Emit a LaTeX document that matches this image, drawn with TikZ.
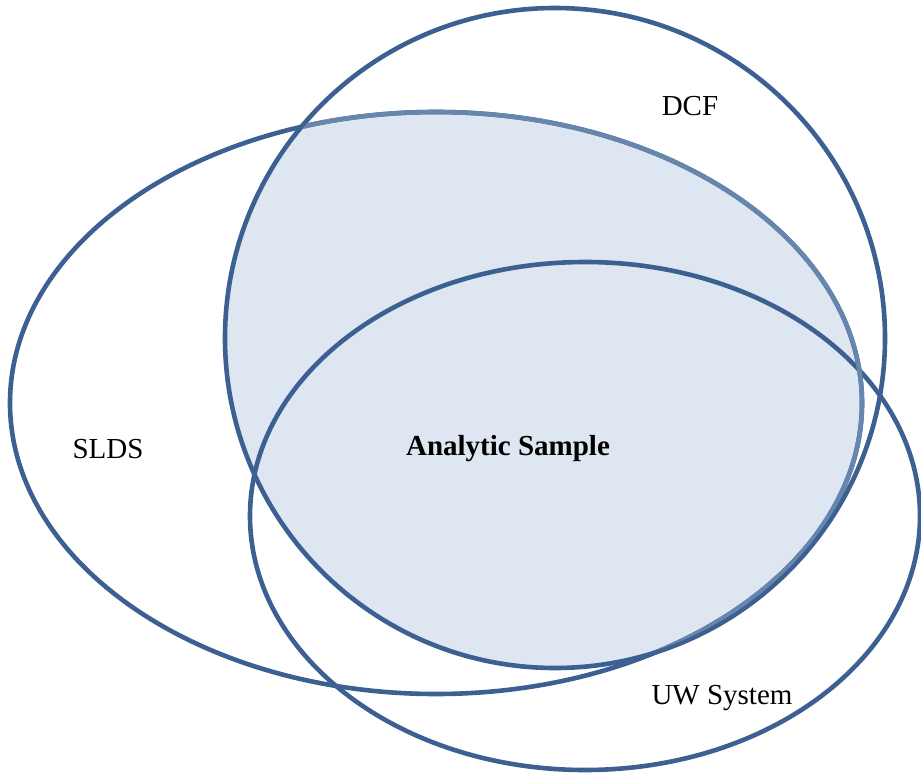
\documentclass[tikz,border=0pt]{standalone}
\usepackage{fontspec}
\setmainfont{Liberation Serif}
\begin{document}
\begin{tikzpicture}[x=1pt,y=-1pt]
\definecolor{edgec}{HTML}{3C6091}
\definecolor{lightedge}{HTML}{6786AD}
\definecolor{fillc}{HTML}{DEE6F1}
\tikzset{
  setline/.style={draw=edgec, line width=4.6pt},
  lbl/.style={font=\fontsize{29}{34}\selectfont, inner sep=0pt, anchor=center}
}
\useasboundingbox (0,0) rectangle (921,776);
% shaded intersection of SLDS and DCF
\begin{scope}
  \clip (436,403) ellipse [x radius=426pt, y radius=291pt];
  \fill[fillc] (555,338) circle [radius=330pt];
\end{scope}
% outlines
\draw[setline] (436,403) ellipse [x radius=426pt, y radius=291pt];
\draw[setline] (555,338) circle [radius=330pt];
\draw[setline] (585,516) ellipse [x radius=335pt, y radius=254pt];
% lighter part of SLDS outline inside DCF
\begin{scope}
  \clip (555,338) circle [radius=328pt];
  \draw[draw=lightedge, line width=4.6pt] (436,403) ellipse [x radius=426pt, y radius=291pt];
\end{scope}
% labels
\node[lbl] (dcf) at (690,106) {DCF};
\node[lbl] (slds) at (108,449) {SLDS};
\node[lbl, font=\fontsize{29}{34}\selectfont\bfseries] (as) at (508,449) {Analytic Sample};
\node[lbl] (uw) at (722,698) {UW System};
\end{tikzpicture}
\end{document}
